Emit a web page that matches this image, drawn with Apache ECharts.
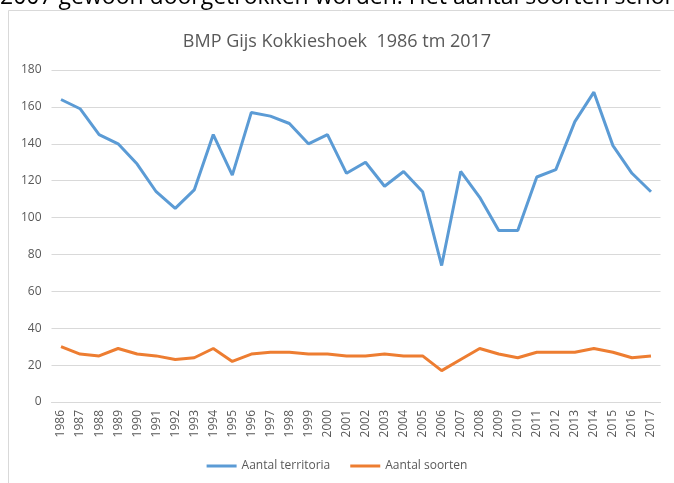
<!DOCTYPE html>
<html>
<head>
<meta charset="utf-8">
<script src="https://cdn.jsdelivr.net/npm/echarts@6/dist/echarts.min.js"></script>
<style>
  html, body { margin: 0; padding: 0; background: #fff; }
  #chart { width: 674px; height: 483px; }
</style>
</head>
<body>
<div id="chart"></div>
<script>
// jaren 1986 - 2017
var years = ['1986','1987','1988','1989','1990','1991','1992','1993','1994','1995','1996',
  '1997','1998','1999','2000','2001','2002','2003','2004','2005','2006','2007','2008',
  '2009','2010','2011','2012','2013','2014','2015','2016','2017'];

var territoria = [164,159,145,140,129,114,105,115,145,123,157,155,151,140,145,124,130,
  117,125,114,74,125,111,93,93,122,126,152,168,139,124,114];

var soorten = [30,26,25,29,26,25,23,24,29,22,26,27,27,26,26,25,25,26,25,25,17,23,29,
  26,24,27,27,27,29,27,24,25];

var yTicks = { min: 0, max: 180, interval: 20 };

var fontFam = '"Open Sans", "Noto Sans", sans-serif';
var textGrey = '#595959';

var chart = echarts.init(document.getElementById('chart'));
var option = {
    animation: false,
    color: ['#5B9BD5', '#ED7D31'],
    // stukje tekst van het document erboven + rand van de grafiek
    graphic: [
        {
            type: 'text',
            left: 0,
            top: -14,
            style: {
                text: '2007 gewoon doorgetrokken worden. Het aantal soorten schommelt',
                font: '23px "Open Sans", sans-serif',
                fill: '#000'
            }
        },
        {
            type: 'rect',
            shape: { x: 8.5, y: 10.5, width: 700, height: 500 },
            style: { fill: '#fff', stroke: '#D9D9D9', lineWidth: 1 },
            silent: true,
            z: -1
        }
    ],
    title: {
        text: 'BMP Gijs Kokkieshoek  1986 tm 2017',
        left: 'center',
        top: 28,
        textStyle: { fontFamily: fontFam, fontSize: 18, fontWeight: 'normal', color: textGrey }
    },
    legend: {
        bottom: 6,
        left: 'center',
        icon: 'rect',
        itemWidth: 30,
        itemHeight: 3,
        itemGap: 20,
        textStyle: { fontFamily: fontFam, fontSize: 12, color: textGrey }
    },
    grid: { left: 51.5, right: 13.5, top: 70, bottom: 81 },
    xAxis: {
        type: 'category',
        data: years,
        boundaryGap: true,
        axisLine: { lineStyle: { color: '#D9D9D9' } },
        axisTick: { show: false },
        axisLabel: {
            rotate: 90,
            interval: 0,
            margin: 8,
            fontFamily: fontFam,
            fontSize: 12,
            color: textGrey
        }
    },
    yAxis: {
        type: 'value',
        min: yTicks.min,
        max: yTicks.max,
        interval: yTicks.interval,
        axisLine: { show: false },
        axisTick: { show: false },
        splitLine: { lineStyle: { color: '#D9D9D9' } },
        axisLabel: { margin: 10, fontFamily: fontFam, fontSize: 12, color: textGrey }
    },
    series: [
        {
            name: 'Aantal territoria',
            type: 'line',
            data: territoria,
            symbol: 'none',
            lineStyle: { width: 3 }
        },
        {
            name: 'Aantal soorten',
            type: 'line',
            data: soorten,
            symbol: 'none',
            lineStyle: { width: 3 }
        }
    ]
};
chart.setOption(option);
</script>
</body>
</html>
